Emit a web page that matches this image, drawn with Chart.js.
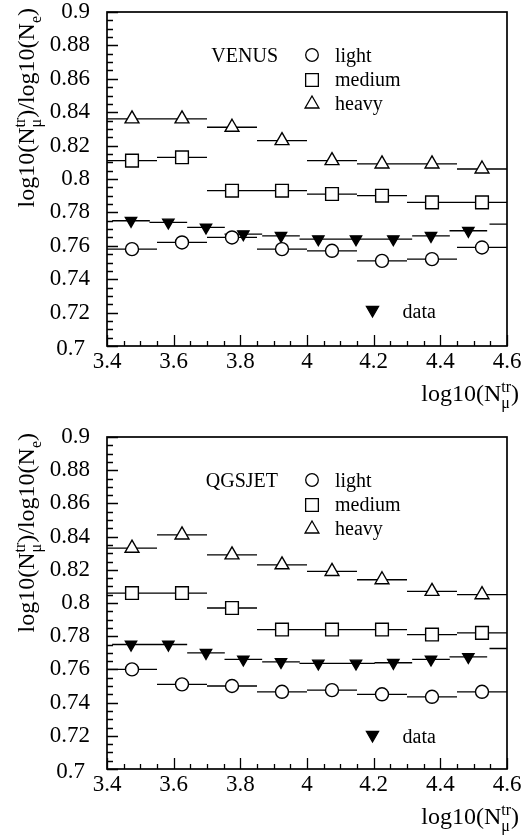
<!DOCTYPE html>
<html>
<head>
<meta charset="utf-8">
<script src="https://cdn.jsdelivr.net/npm/chart.js@4.4.0/dist/chart.umd.min.js"></script>
<style>
  body { margin: 0; background: #fff; }
  .panel { width: 523px; height: 420px; }
  canvas { display: block; }
</style>
</head>
<body>
<div class="panel"><canvas id="venus-chart" width="523" height="420"></canvas></div>
<div class="panel"><canvas id="qgsjet-chart" width="523" height="420"></canvas></div>
<script>
// bin centres (log10 Nmu_tr) for simulations and for measured data
const binCenters = [3.475, 3.625, 3.775, 3.925, 4.075, 4.225, 4.375, 4.525];
const dataCenters = [3.472, 3.584, 3.697, 3.809, 3.922, 4.034, 4.147, 4.259, 4.372, 4.484, 4.604];
const xTicks = [3.4, 3.6, 3.8, 4, 4.2, 4.4, 4.6];
const yTicks = [0.7, 0.72, 0.74, 0.76, 0.78, 0.8, 0.82, 0.84, 0.86, 0.88, 0.9];

// VENUS panel
const venusLight = [0.758, 0.762, 0.765, 0.758, 0.757, 0.751, 0.752, 0.759];
const venusMedium = [0.811, 0.813, 0.793, 0.793, 0.791, 0.790, 0.786, 0.786];
const venusHeavy = [0.836, 0.836, 0.831, 0.823, 0.811, 0.809, 0.809, 0.806];
const venusData = [0.775, 0.774, 0.771, 0.767, 0.766, 0.764, 0.764, 0.764, 0.766, 0.769, 0.773];

// QGSJET panel
const qgsLight = [0.760, 0.751, 0.750, 0.7465, 0.7475, 0.745, 0.7435, 0.7465];
const qgsMedium = [0.806, 0.806, 0.797, 0.784, 0.784, 0.784, 0.781, 0.782];
const qgsHeavy = [0.833, 0.841, 0.829, 0.823, 0.819, 0.814, 0.807, 0.805];
const qgsData = [0.775, 0.775, 0.770, 0.766, 0.7645, 0.7636, 0.7636, 0.764, 0.766, 0.7675, 0.7726];

const mcHalfWidth = 0.075;
const dataHalfWidth = 0.0565;

const SERIF = "'Liberation Serif', 'Times New Roman', serif";
Chart.defaults.font.family = SERIF;
Chart.defaults.color = '#000';

function points(xs, ys) {
    return xs.map((x, i) => ({ x: x, y: ys[i] }));
}

// horizontal error bars as broken line segments
function hBars(xs, ys, half) {
    const pts = [];
    xs.forEach((x, i) => {
        pts.push({ x: x - half, y: ys[i] }, { x: x + half, y: ys[i] }, { x: x + half, y: null });
    });
    return pts;
}

function fmt(v) {
    return String(parseFloat(v.toFixed(2)));
}

function drawMarker(ctx, style, x, y, r, filled) {
    ctx.beginPath();
    if (style === 'circle') {
        ctx.arc(x, y, r, 0, Math.PI * 2);
    } else if (style === 'rect') {
        const s = r * Math.SQRT1_2;
        ctx.rect(x - s, y - s, 2 * s, 2 * s);
    } else if (style === 'triangle') {
        ctx.moveTo(x, y - r);
        ctx.lineTo(x + r * 0.866, y + r / 2);
        ctx.lineTo(x - r * 0.866, y + r / 2);
        ctx.closePath();
    } else if (style === 'down') {
        ctx.moveTo(x, y + r);
        ctx.lineTo(x + r * 0.866, y - r / 2);
        ctx.lineTo(x - r * 0.866, y - r / 2);
        ctx.closePath();
    }
    ctx.fillStyle = filled ? '#000' : '#fff';
    ctx.fill();
    ctx.stroke();
}

// text with super/subscripts; parts: {t} or {sup, sub}
function richWidth(ctx, parts, size, small) {
    let w = 0;
    parts.forEach(p => {
        if (p.t) {
            ctx.font = size + 'px ' + SERIF;
            w += ctx.measureText(p.t).width;
        } else {
            ctx.font = small + 'px ' + SERIF;
            w += Math.max(p.sup ? ctx.measureText(p.sup).width : 0, p.sub ? ctx.measureText(p.sub).width : 0);
        }
    });
    return w;
}

function drawRich(ctx, parts, x, y, size, small) {
    ctx.textAlign = 'left';
    ctx.textBaseline = 'alphabetic';
    parts.forEach(p => {
        if (p.t) {
            ctx.font = size + 'px ' + SERIF;
            ctx.fillText(p.t, x, y);
            x += ctx.measureText(p.t).width;
        } else {
            ctx.font = small + 'px ' + SERIF;
            let w = 0;
            if (p.sup) { ctx.fillText(p.sup, x, y - 9); w = ctx.measureText(p.sup).width; }
            if (p.sub) { ctx.fillText(p.sub, x, y + 7); w = Math.max(w, ctx.measureText(p.sub).width); }
            x += w;
        }
    });
}

const xTitleParts = [{ t: 'log10(N' }, { sup: 'tr', sub: 'μ' }, { t: ')' }];
const yTitleParts = [{ t: 'log10(N' }, { sup: 'tr', sub: 'μ' }, { t: ')/log10(N' }, { sub: 'e' }, { t: ')' }];

const framePlugin = {
    id: 'frameTicks',
    afterDraw(chart) {
        const ctx = chart.ctx;
        const a = chart.chartArea;
        const xs = chart.scales.x, ys = chart.scales.y;
        ctx.save();
        ctx.strokeStyle = '#000';
        ctx.lineWidth = 1.3;
        ctx.beginPath();
        // minor ticks every 0.005 on y, every 0.05 on x, pointing inwards
        for (let i = 0; i <= 40; i++) {
            const v = 0.7 + i * 0.005;
            const major = i % 4 === 0;
            const py = Math.round(ys.getPixelForValue(v)) + 0.5;
            ctx.moveTo(a.left, py);
            ctx.lineTo(a.left + (major ? 11 : 6), py);
        }
        for (let i = 0; i <= 24; i++) {
            const v = 3.4 + i * 0.05;
            const major = i % 4 === 0;
            const px = Math.round(xs.getPixelForValue(v)) + 0.5;
            ctx.moveTo(px, a.bottom);
            ctx.lineTo(px, a.bottom - (major ? 11 : 5));
        }
        ctx.stroke();
        ctx.lineWidth = 1.7;
        ctx.strokeRect(a.left, a.top, a.right - a.left, a.bottom - a.top);

        // lowest y label sits a little left of the others, clear of "3.4"
        ctx.font = '23px ' + SERIF;
        ctx.fillStyle = '#000';
        ctx.textAlign = 'right';
        ctx.textBaseline = 'middle';
        ctx.fillText(fmt(yTicks[0]), a.left - 22, a.bottom + 3);
        ctx.restore();
    }
};

const labelPlugin = {
    id: 'labels',
    afterDraw(chart, args, opts) {
        const ctx = chart.ctx;
        const a = chart.chartArea;
        ctx.save();
        ctx.fillStyle = '#000';
        ctx.strokeStyle = '#000';
        ctx.lineWidth = 1.3;

        // x title, right aligned near the canvas edge
        const xw = richWidth(ctx, xTitleParts, 24, 16);
        drawRich(ctx, xTitleParts, 519 - xw, a.bottom + 55, 24, 16);

        // y title, rotated, ending just above the frame
        const yw = richWidth(ctx, yTitleParts, 24, 16);
        ctx.save();
        ctx.translate(34, a.top - 4 + yw);
        ctx.rotate(-Math.PI / 2);
        drawRich(ctx, yTitleParts, 0, 0, 24, 16);
        ctx.restore();

        // legend
        ctx.font = '20px ' + SERIF;
        ctx.textBaseline = 'alphabetic';
        ctx.textAlign = 'right';
        ctx.fillText(opts.model, a.left + 171, a.top + 49.5);
        ctx.textAlign = 'left';
        const rows = [['circle', 'light', 43, 49.5], ['rect', 'medium', 68, 73.5], ['triangle', 'heavy', 92, 98]];
        rows.forEach(r => {
            const rad = r[0] === 'rect' ? 9 : (r[0] === 'triangle' ? 8 : 6.3);
            drawMarker(ctx, r[0], a.left + 205, a.top + r[2], rad, false);
            ctx.fillStyle = '#000';
            ctx.fillText(r[1], a.left + 228, a.top + r[3]);
        });
        drawMarker(ctx, 'down', a.left + 265.5, a.top + 298, 7, true);
        ctx.fillText('data', a.left + 295.5, a.top + 306.3);
        ctx.restore();
    }
};

function makeChart(id, model, light, medium, heavy, measured, topPad, xAxisHeight) {
    const marker = { showLine: false, borderColor: '#000', backgroundColor: '#fff', borderWidth: 1.4, order: 1 };
    const bar = { showLine: true, pointRadius: 0, borderColor: '#000', borderWidth: 1.3, spanGaps: false, clip: 0, order: 2 };
    const dataRadius = dataCenters.map(x => (x > 4.59 ? 0 : 6.5));

    new Chart(document.getElementById(id), {
        type: 'scatter',
        data: {
            datasets: [
                Object.assign({ label: 'light bars', data: hBars(binCenters, light, mcHalfWidth) }, bar),
                Object.assign({ label: 'medium bars', data: hBars(binCenters, medium, mcHalfWidth) }, bar),
                Object.assign({ label: 'heavy bars', data: hBars(binCenters, heavy, mcHalfWidth) }, bar),
                Object.assign({ label: 'data bars', data: hBars(dataCenters, measured, dataHalfWidth) }, bar),
                Object.assign({ label: 'light', data: points(binCenters, light), pointStyle: 'circle', pointRadius: 6.5 }, marker),
                Object.assign({ label: 'medium', data: points(binCenters, medium), pointStyle: 'rect', pointRadius: 9 }, marker),
                Object.assign({ label: 'heavy', data: points(binCenters, heavy), pointStyle: 'triangle', pointRadius: 8 }, marker),
                Object.assign({ label: 'data', data: points(dataCenters, measured), pointStyle: 'triangle', rotation: 180,
                    pointRadius: dataRadius, clip: 0 }, marker, { backgroundColor: '#000' })
            ]
        },
        options: {
            responsive: false,
            animation: false,
            devicePixelRatio: 1,
            events: [],
            layout: { padding: { top: topPad, right: 16, left: 0, bottom: 0 } },
            scales: {
                x: {
                    type: 'linear',
                    min: 3.4,
                    max: 4.6,
                    afterBuildTicks: scale => { scale.ticks = xTicks.map(v => ({ value: v })); },
                    afterFit: scale => {
                        scale.height = xAxisHeight;
                        scale.paddingLeft = 0;
                        scale.paddingRight = 0;
                    },
                    grid: { display: false, drawTicks: false },
                    border: { display: false },
                    ticks: {
                        padding: 2,
                        maxRotation: 0,
                        autoSkip: false,
                        font: { size: 23 },
                        color: '#000',
                        callback: v => fmt(v)
                    }
                },
                y: {
                    type: 'linear',
                    min: 0.7,
                    max: 0.9,
                    afterBuildTicks: scale => { scale.ticks = yTicks.map(v => ({ value: v })); },
                    afterFit: scale => {
                        scale.width = 107;
                        scale.paddingTop = 0;
                        scale.paddingBottom = 0;
                    },
                    grid: { display: false, drawTicks: false },
                    border: { display: false },
                    ticks: {
                        padding: 17,
                        autoSkip: false,
                        font: { size: 23 },
                        color: '#000',
                        // the 0.7 label is drawn by the frame plugin
                        callback: v => (Math.abs(v - yTicks[0]) < 1e-9 ? '' : fmt(v))
                    }
                }
            },
            plugins: {
                legend: { display: false },
                tooltip: { enabled: false },
                labels: { model: model }
            }
        },
        plugins: [framePlugin, labelPlugin]
    });
}

makeChart('venus-chart', 'VENUS', venusLight, venusMedium, venusHeavy, venusData, 12, 74);
makeChart('qgsjet-chart', 'QGSJET', qgsLight, qgsMedium, qgsHeavy, qgsData, 17, 71);
</script>
</body>
</html>
